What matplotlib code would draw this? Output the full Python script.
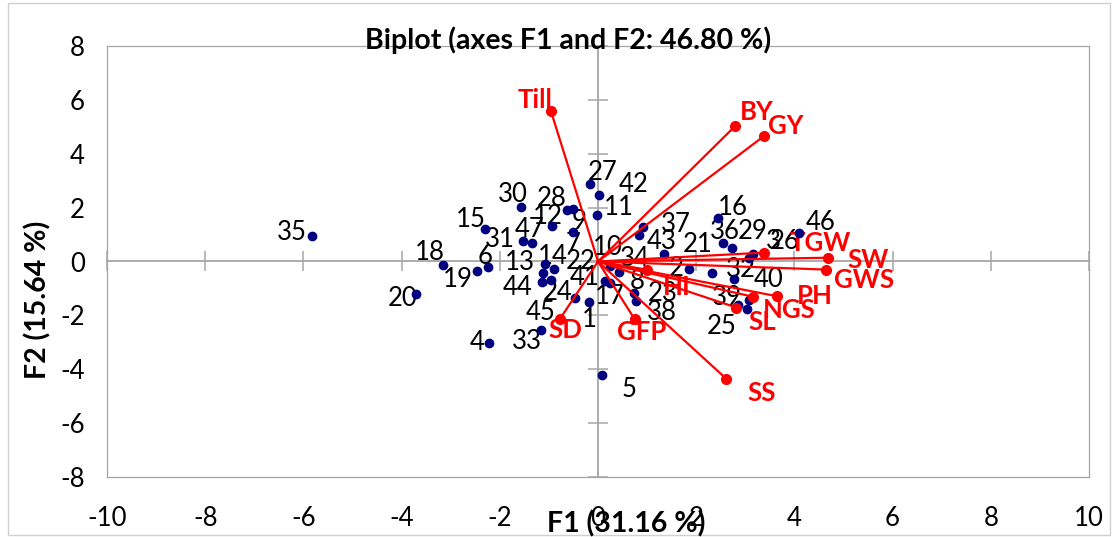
import numpy as np
import matplotlib.pyplot as plt
from matplotlib.patches import Rectangle

plt.rcParams['font.family'] = ['Lato', 'DejaVu Sans']
plt.rcParams['axes.unicode_minus'] = False

# observations (genotypes 1..47) on F1/F2
obs_ids = [str(i) for i in range(1, 48)]
f1_obs = [-0.18, 1.85, 3.08, -2.21, 0.08, -2.25, -0.50, 0.74, -0.51, 0.24,
          -0.03, -0.94, -1.08, -0.90, -2.30, 2.45, 0.24, -3.16, -2.47, -3.71,
          2.32, -0.96, 0.77, -0.47, 2.85, 3.16, -0.16, -0.63, 2.72, -1.57,
          -1.53, 2.76, -1.16, 0.43, -5.82, 2.54, 0.92, 0.84, 3.03, 3.08,
          0.14, 0.03, 1.35, -1.15, -1.13, 4.10, -1.35]
f2_obs = [-1.49, -0.27, 0.14, -3.04, -4.22, -0.21, 1.09, -1.16, 1.96, -0.15,
          1.74, 1.33, -0.11, -0.27, 1.21, 1.62, -0.79, -0.12, -0.36, -1.22,
          -0.42, -0.69, -1.46, -1.34, -1.63, 0.26, 2.88, 1.93, 0.51, 2.03,
          0.75, -0.64, -2.56, -0.40, 0.96, 0.69, 1.27, 1.00, -1.75, -1.43,
          -0.73, 2.48, 0.26, -0.77, -0.44, 1.06, 0.69]

# variable loadings (vectors)
var_names = ['Till', 'BY', 'GY', 'TGW', 'SW', 'GWS', 'PH', 'NGS', 'SL',
             'HI', 'GFP', 'SS', 'SD']
f1_var = [-0.96, 2.80, 3.39, 3.38, 4.68, 4.64, 3.65, 3.16, 2.82, 0.99, 0.75, 2.61, -0.77]
f2_var = [5.59, 5.04, 4.67, 0.33, 0.14, -0.30, -1.29, -1.31, -1.71, -0.30, -2.15, -4.35, -2.12]

x_ticks = np.arange(-10, 11, 2)
y_ticks = np.arange(-8, 9, 2)

# label offsets in pixels (right, up)
obs_offsets = [(0, -18), (-13, 0), (24, 16), (-12, 1), (27, -14), (-2, 11), (0, -12),
               (3, 11), (6, -13), (-2, 18), (22, 7), (-4, 9), (-25, 2), (-1, 12),
               (-14, 9), (15, 10), (0, -14), (-13, 12), (-19, -8), (-13, -4),
               (-14, 28), (30, 19), (27, 7), (-17, 5), (-16, -21), (32, 13),
               (12, 11), (-15, 11), (21, 16), (-8, 12), (-23, 2), (7, 9),
               (-14, -11), (16, 14), (-20, 3), (2, 11), (33, 3), (23, -78),
               (-20, 11), (19, 21), (-20, 4), (34, 10), (-3, 13), (-24, -5),
               (-2, -39), (21, 10), (-2, 13)]
var_offsets = [(-16, 11), (21, 14), (21, 10), (56, 10), (40, -2), (38, -10),
               (38, 0), (36, -13), (26, -14), (30, -17), (7, -13), (35, -14), (5, -11)]

W, H = 1114, 537
fig = plt.figure(figsize=(W / 100, H / 100), dpi=100)
fig.patches.append(Rectangle((8 / W, 2 / H), 1 - 12 / W, 1 - 5 / H, transform=fig.transFigure,
                             fill=False, edgecolor='#d0d0d0', lw=1))
ax = fig.add_axes([107 / W, 1 - 477 / H, 982 / W, 431 / H])
ax.set_xlim(-10, 10)
ax.set_ylim(-8, 8)
for s in ax.spines.values():
    s.set_color('#a6a6a6')
    s.set_linewidth(0.9)

ax.set_xticks(x_ticks)
ax.set_yticks(y_ticks)
ax.tick_params(axis='x', length=0, pad=21, labelsize=18.5)
ax.tick_params(axis='y', length=0, pad=16, labelsize=18.5)

# axes crossing at the origin
grey = '#a6a6a6'
sx = ax.secondary_xaxis(0.5)
sx.set_xticks(x_ticks)
sx.tick_params(direction='inout', length=14, width=1.1, color=grey, labelbottom=False, labeltop=False)
sy = ax.secondary_yaxis(0.5)
sy.set_yticks(y_ticks)
sy.tick_params(direction='inout', length=14, width=1.1, color=grey, labelleft=False, labelright=False)
for sec in (sx, sy):
    for s in sec.spines.values():
        s.set_color(grey)
        s.set_linewidth(1.3)

ax.scatter(f1_obs, f2_obs, s=36, color='#000080', zorder=3)
for name, x, y, off in zip(obs_ids, f1_obs, f2_obs, obs_offsets):
    ax.annotate(name, (x, y), xytext=off, textcoords='offset pixels',
                ha='center', va='center', fontsize=18.5, color='black', zorder=2.5)

for name, x, y, off in zip(var_names, f1_var, f2_var, var_offsets):
    ax.plot([0, x], [0, y], color='red', lw=1.6, zorder=4)
    ax.plot(x, y, 'o', color='red', ms=7, zorder=4)
    ax.annotate(name, (x, y), xytext=off, textcoords='offset pixels',
                ha='center', va='center', fontsize=18.5, fontweight='bold',
                color='red', zorder=2.5)

fig.text(568 / W, 1 - 40 / H, 'Biplot (axes F1 and F2: 46.80 %)', ha='center', va='center',
         fontsize=20.5, fontweight='bold')
fig.text(626 / W, 1 - 524 / H, 'F1 (31.16 %)', ha='center', va='center',
         fontsize=20.5, fontweight='bold')
fig.text(38 / W, 1 - 300 / H, 'F2 (15.64 %)', ha='center', va='center',
         fontsize=20.5, fontweight='bold', rotation=90)

fig.savefig('out.png', dpi=100)
